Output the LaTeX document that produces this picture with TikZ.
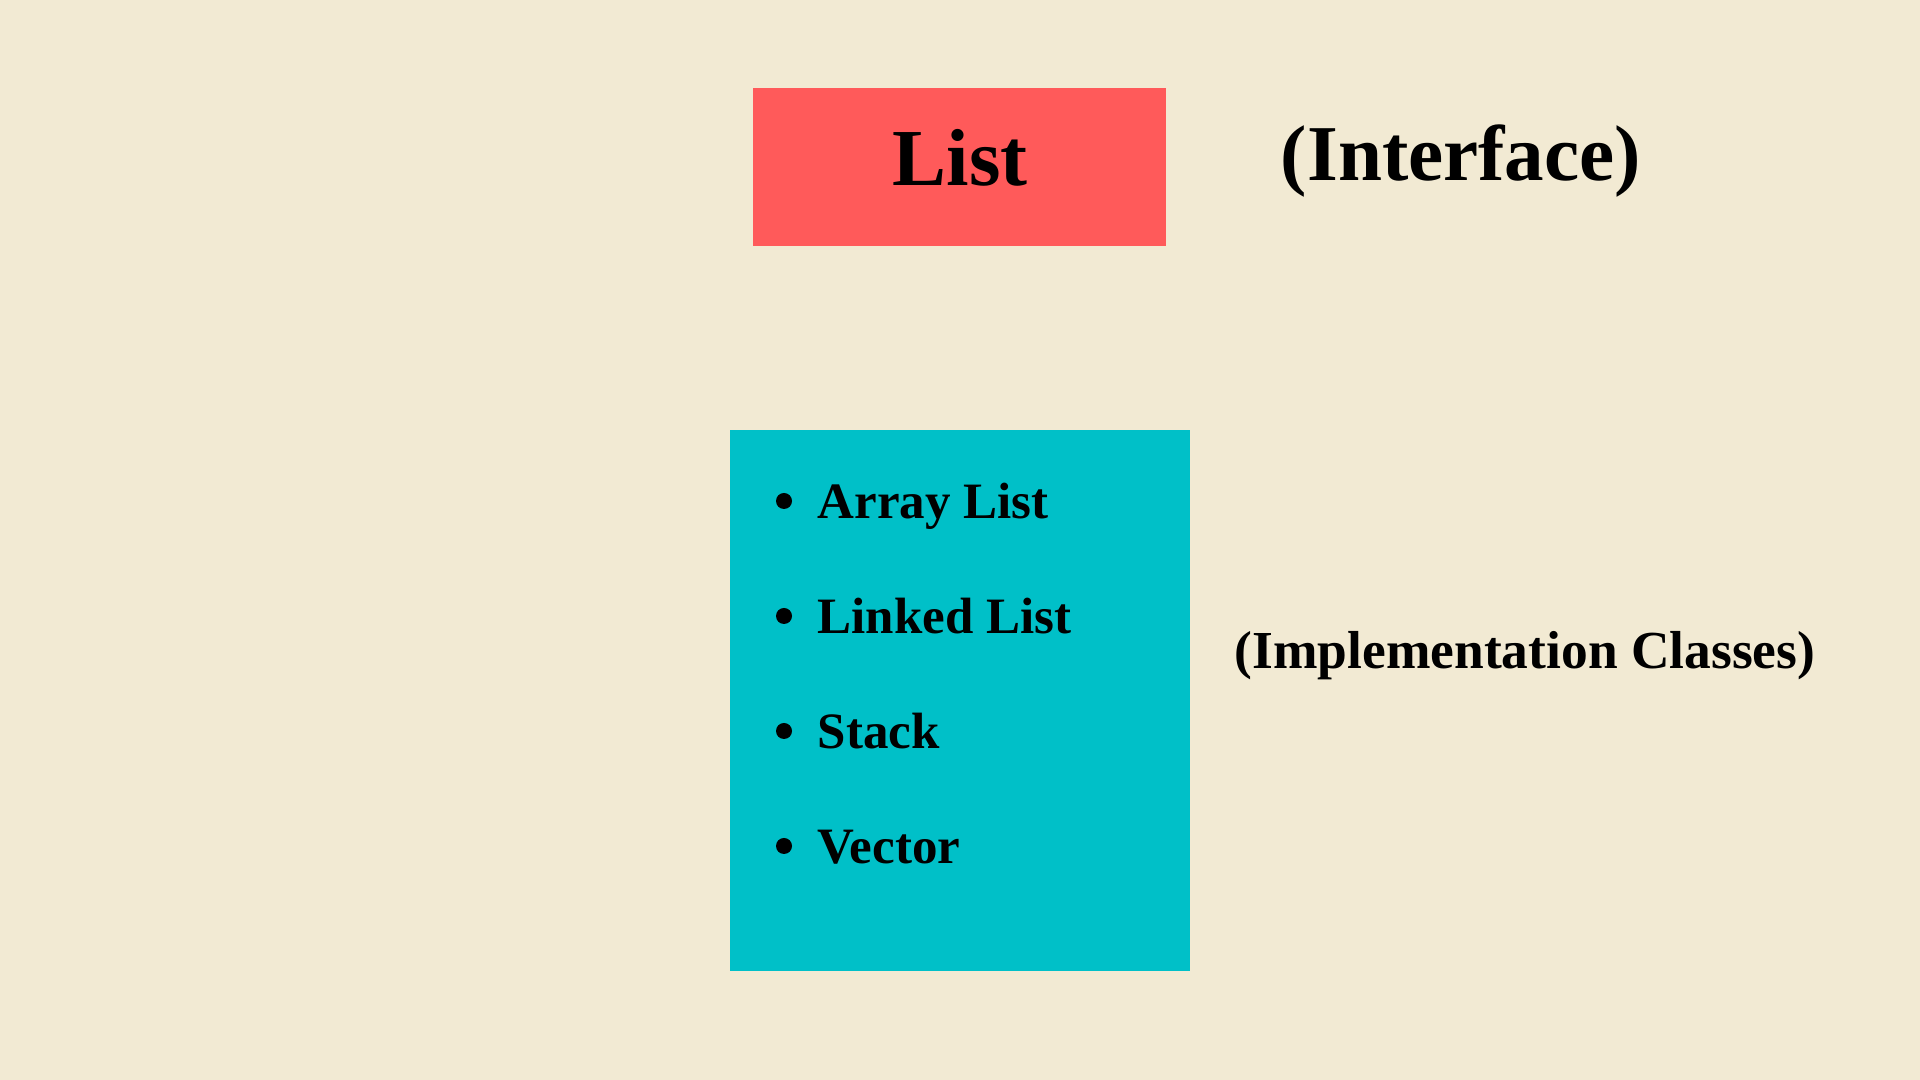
\documentclass[tikz,border=0pt]{standalone}
\usepackage{fontspec}
\setmainfont{Liberation Serif}

\definecolor{paper}{RGB}{242,234,211}
\definecolor{listred}{RGB}{255,90,90}
\definecolor{implcyan}{RGB}{0,192,200}

\begin{document}
\begin{tikzpicture}[x=0.01cm, y=-0.01cm,
        box/.style={inner sep=0pt, outer sep=0pt},
        label/.style={font=\bfseries, inner sep=0pt}]
            \fill[paper] (0,0) rectangle (1920,1080);
            \useasboundingbox (0,0) rectangle (1920,1080);
            % interface box
            \node (iface) [box, fill=listred, minimum width=4.13cm, minimum height=1.58cm] at (959.5,167) {};
            \node (listtxt) [label, anchor=base, font=\bfseries\fontsize{23}{28}\selectfont] at (960,186) {List};
            \node (ifacetxt) [label, anchor=base, font=\bfseries\fontsize{22.5}{27}\selectfont] at (1461,181) {(Interface)};
            % implementation box
            \node (impl) [box, fill=implcyan, minimum width=4.6cm, minimum height=5.41cm] at (960,700.5) {};
            \foreach \name/\txt [count=\i from 0] in {arr/Array List, lnk/Linked List, stk/Stack, vec/Vector} {
                \fill (784,{501+115*\i}) circle (0.08cm);
                \node (\name) [label, anchor=base west, font=\bfseries\fontsize{14.5}{18}\selectfont] at (817,{519+115*\i}) {\txt};
            }
            \node (impltxt) [label, anchor=base, font=\bfseries\fontsize{15.2}{19}\selectfont] at (1525,669) {(Implementation Classes)};
        \end{tikzpicture}
\end{document}
